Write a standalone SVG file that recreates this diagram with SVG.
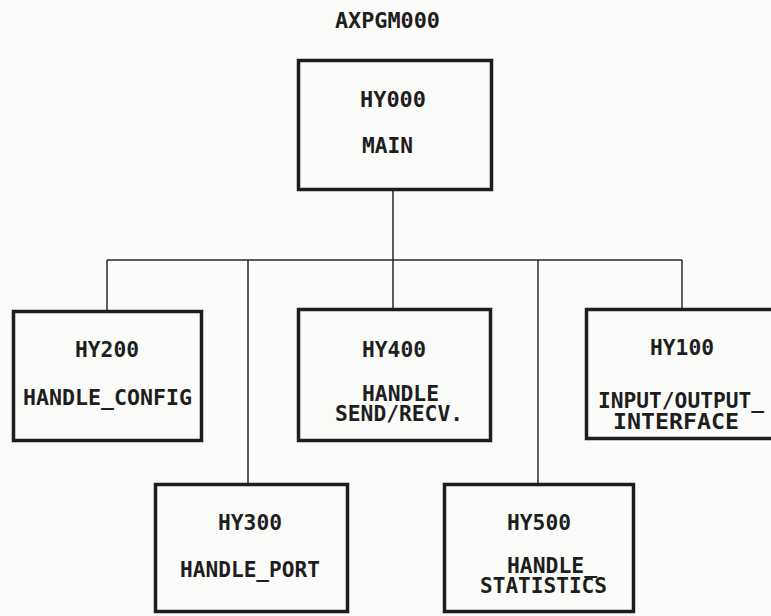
<svg xmlns="http://www.w3.org/2000/svg" width="771" height="616" viewBox="0 0 771 616">
<style>
.bg{fill:#fbfbf9}
.box{fill:none;stroke:#1e1e1e;stroke-width:3.5}
.con{fill:none;stroke:#2a2a2a;stroke-width:1.5}
text{font-family:"DejaVu Sans Mono","Liberation Mono",monospace;font-weight:bold;font-size:22px;fill:#1e1e1e}
</style>
<rect class="bg" x="0" y="0" width="771" height="616"/>
<text x="335" y="28" textLength="105" lengthAdjust="spacingAndGlyphs">AXPGM000</text>
<g id="connectors">
<path class="con" d="M393,191 V260 M107,260 H682 M107,260 V310 M248,260 V483 M393,260 V308 M538,260 V483 M682,260 V308"/>
</g>
<g id="HY000">
<rect class="box" x="298.5" y="60.5" width="193" height="129"/>
<text x="360" y="107" textLength="66" lengthAdjust="spacingAndGlyphs">HY000</text>
<text x="362" y="153" textLength="51" lengthAdjust="spacingAndGlyphs">MAIN</text>
</g>
<g id="HY200">
<rect class="box" x="13.5" y="311.5" width="188" height="129"/>
<text x="75" y="357" textLength="64" lengthAdjust="spacingAndGlyphs">HY200</text>
<text x="23" y="405" textLength="169" lengthAdjust="spacingAndGlyphs">HANDLE_CONFIG</text>
</g>
<g id="HY400">
<rect class="box" x="298.5" y="309.5" width="192" height="131"/>
<text x="362" y="357" textLength="64" lengthAdjust="spacingAndGlyphs">HY400</text>
<text x="362" y="401" textLength="77" lengthAdjust="spacingAndGlyphs">HANDLE</text>
<text x="335" y="421" textLength="128" lengthAdjust="spacingAndGlyphs">SEND/RECV.</text>
</g>
<g id="HY100">
<rect class="box" x="586.5" y="309.5" width="190" height="129"/>
<text x="650" y="355" textLength="64" lengthAdjust="spacingAndGlyphs">HY100</text>
<text x="598" y="408" textLength="166" lengthAdjust="spacingAndGlyphs">INPUT/OUTPUT_</text>
<text x="613" y="429" textLength="126" lengthAdjust="spacingAndGlyphs">INTERFACE</text>
</g>
<g id="HY300">
<rect class="box" x="155.5" y="484.5" width="192" height="127"/>
<text x="218" y="530" textLength="64" lengthAdjust="spacingAndGlyphs">HY300</text>
<text x="180" y="577" textLength="140" lengthAdjust="spacingAndGlyphs">HANDLE_PORT</text>
</g>
<g id="HY500">
<rect class="box" x="444.5" y="484.5" width="189" height="127"/>
<text x="507" y="530" textLength="64" lengthAdjust="spacingAndGlyphs">HY500</text>
<text x="507" y="573" textLength="90" lengthAdjust="spacingAndGlyphs">HANDLE_</text>
<text x="480" y="593" textLength="127" lengthAdjust="spacingAndGlyphs">STATISTICS</text>
</g>
</svg>
